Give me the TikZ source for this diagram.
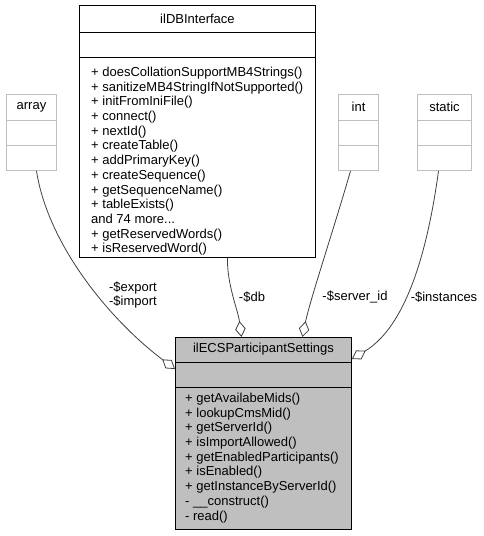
\documentclass[tikz,border=0pt]{standalone}
\usepackage{fontspec}
\setmainfont{Liberation Sans}
\usetikzlibrary{arrows.meta}
\definecolor{edgegray}{HTML}{404040}
\definecolor{boxgray}{HTML}{BFBFBF}
\begin{document}
\begin{tikzpicture}[x=1pt,y=-1pt,
  txt/.style={font=\fontsize{13}{14.7}\selectfont, inner sep=0pt},
  classbox/.style={draw=black, line width=0.9pt, fill=white, anchor=north west, inner sep=0pt},
  extbox/.style={draw=boxgray, line width=1pt, fill=white, anchor=north west, inner sep=0pt},
  mainbox/.style={draw=black, line width=0.9pt, fill=boxgray, anchor=north west, inner sep=0pt},
  sepblack/.style={draw=black, line width=0.9pt},
  sepgray/.style={draw=boxgray, line width=1pt},
  agg/.style={draw=edgegray, line width=0.8pt, -{Diamond[length=16pt,width=10.5pt,fill=white,line width=0.8pt]}},
  lbl/.style={txt, align=center}
]
\useasboundingbox (0,0) rectangle (484,536);

% ilDBInterface
\node[classbox, minimum width=236pt, minimum height=252pt] (db) at (79,5) {};
\draw[sepblack] ([yshift=-27pt]db.north west) -- ([yshift=-27pt]db.north east);
\draw[sepblack] ([yshift=-52pt]db.north west) -- ([yshift=-52pt]db.north east);
\node[txt] (dbt) at ([yshift=-13.5pt]db.north) {ilDBInterface};
\node[txt, align=left, anchor=north west] (dbm) at ([xshift=12pt, yshift=-61.8pt]db.north west) {%
+ doesCollationSupportMB4Strings()\\
+ sanitizeMB4StringIfNotSupported()\\
+ initFromIniFile()\\
+ connect()\\
+ nextId()\\
+ createTable()\\
+ addPrimaryKey()\\
+ createSequence()\\
+ getSequenceName()\\
+ tableExists()\\
and 74 more...\\
+ getReservedWords()\\
+ isReservedWord()};

% array
\node[extbox, minimum width=50pt, minimum height=76pt] (arr) at (6,94) {};
\draw[sepgray] ([yshift=-26pt]arr.north west) -- ([yshift=-26pt]arr.north east);
\draw[sepgray] ([yshift=-51pt]arr.north west) -- ([yshift=-51pt]arr.north east);
\node[txt] (arrt) at ([yshift=-13pt]arr.north) {array};

% int
\node[extbox, minimum width=40pt, minimum height=76pt] (int) at (338,94) {};
\draw[sepgray] ([yshift=-26pt]int.north west) -- ([yshift=-26pt]int.north east);
\draw[sepgray] ([yshift=-51pt]int.north west) -- ([yshift=-51pt]int.north east);
\node[txt] (intt) at ([yshift=-13pt]int.north) {int};

% static
\node[extbox, minimum width=54pt, minimum height=76pt] (st) at (417,94) {};
\draw[sepgray] ([yshift=-26pt]st.north west) -- ([yshift=-26pt]st.north east);
\draw[sepgray] ([yshift=-51pt]st.north west) -- ([yshift=-51pt]st.north east);
\node[txt] (stt) at ([yshift=-13pt]st.north) {static};

% ilECSParticipantSettings
\node[mainbox, minimum width=176pt, minimum height=192pt] (ecs) at (175,337) {};
\draw[sepblack] ([yshift=-25pt]ecs.north west) -- ([yshift=-25pt]ecs.north east);
\draw[sepblack] ([yshift=-50pt]ecs.north west) -- ([yshift=-50pt]ecs.north east);
\node[txt] (ecst) at ([yshift=-12pt]ecs.north) {ilECSParticipantSettings};
\node[txt, align=left, anchor=north west] (ecsm) at ([xshift=10pt, yshift=-55.8pt]ecs.north west) {%
+ getAvailabeMids()\\
+ lookupCmsMid()\\
+ getServerId()\\
+ isImportAllowed()\\
+ getEnabledParticipants()\\
+ isEnabled()\\
+ getInstanceByServerId()\\
- \_\_construct()\\
- read()};

% connectors
\draw[agg] ([xshift=5pt]arr.south) .. controls (48,245) and (110,320) .. ([yshift=-32pt]ecs.north west);
\draw[agg] ([xshift=30pt]db.south) .. controls (227,285) and (238,310) .. ([xshift=-22pt]ecs.north);
\draw[agg] ([xshift=-8pt]int.south) .. controls (335,225) and (310,300) .. ([xshift=39pt]ecs.north);
\draw[agg] ([xshift=-6pt]st.south) .. controls (425,270) and (400,330) .. ([yshift=-22pt]ecs.north east);

% labels
\node[lbl] (l1) at (133,295) {-\$export\\-\$import};
\node[lbl] (l2) at (252,297) {-\$db};
\node[lbl] (l3) at (355,297) {-\$server\_id};
\node[lbl] (l4) at (444,297) {-\$instances};
\end{tikzpicture}
\end{document}
